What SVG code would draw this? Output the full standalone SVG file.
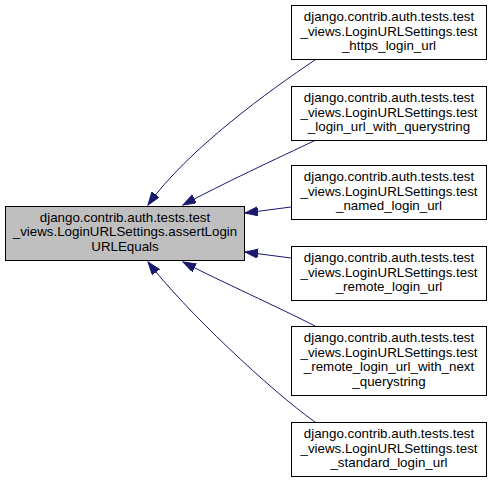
<svg xmlns="http://www.w3.org/2000/svg" width="492" height="483" viewBox="0 0 492 483">
<style>
.bg{fill:#ffffff}
.node rect{fill:#ffffff;stroke:#000000;stroke-width:1}
#main rect{fill:#bfbfbf}
.node text{font-family:"Liberation Sans",Arial,sans-serif;font-size:13.33px;fill:#000000;text-anchor:middle}
.edge{fill:none;stroke:#191970;stroke-width:1;marker-end:url(#arr)}
</style>
<defs>
<marker id="arr" markerUnits="userSpaceOnUse" markerWidth="14" markerHeight="10" refX="13" refY="4.5" orient="auto">
<path d="M0,0 L13,4.5 L0,9 z" fill="#191970" stroke="#191970" stroke-width="1"/>
</marker>
</defs>
<rect class="bg" x="0" y="0" width="492" height="483"/>
<g id="connectors">
<path class="edge" d="M315,60 C270,90 187,150 148,205"/>
<path class="edge" d="M316,140 C280,157 220,185 183,205"/>
<path class="edge" d="M291,207 L245,213"/>
<path class="edge" d="M291,258 L245,252"/>
<path class="edge" d="M315,326 C280,308 220,281 183,262"/>
<path class="edge" d="M315,422 C270,390 185,310 148,262"/>
</g>
<g id="main" class="node">
<rect x="5.5" y="206.5" width="239" height="54"/>
<text x="125" y="221.5">django.contrib.auth.tests.test</text>
<text x="125" y="236">_views.LoginURLSettings.assertLogin</text>
<text x="125" y="250.5">URLEquals</text>
</g>
<g id="n1" class="node">
<rect x="291.5" y="5.5" width="195" height="54"/>
<text x="389" y="21">django.contrib.auth.tests.test</text>
<text x="389" y="35.5">_views.LoginURLSettings.test</text>
<text x="389" y="50">_https_login_url</text>
</g>
<g id="n2" class="node">
<rect x="291.5" y="86.5" width="195" height="54"/>
<text x="389" y="102">django.contrib.auth.tests.test</text>
<text x="389" y="116.5">_views.LoginURLSettings.test</text>
<text x="389" y="131">_login_url_with_querystring</text>
</g>
<g id="n3" class="node">
<rect x="291.5" y="165.5" width="195" height="54"/>
<text x="389" y="181">django.contrib.auth.tests.test</text>
<text x="389" y="195.5">_views.LoginURLSettings.test</text>
<text x="389" y="210">_named_login_url</text>
</g>
<g id="n4" class="node">
<rect x="291.5" y="246.5" width="195" height="54"/>
<text x="389" y="262">django.contrib.auth.tests.test</text>
<text x="389" y="276.5">_views.LoginURLSettings.test</text>
<text x="389" y="291">_remote_login_url</text>
</g>
<g id="n5" class="node">
<rect x="291.5" y="326.5" width="195" height="69"/>
<text x="389" y="342">django.contrib.auth.tests.test</text>
<text x="389" y="356.5">_views.LoginURLSettings.test</text>
<text x="389" y="371">_remote_login_url_with_next</text>
<text x="389" y="385.5">_querystring</text>
</g>
<g id="n6" class="node">
<rect x="291.5" y="422.5" width="195" height="54"/>
<text x="389" y="438">django.contrib.auth.tests.test</text>
<text x="389" y="452.5">_views.LoginURLSettings.test</text>
<text x="389" y="467">_standard_login_url</text>
</g>
</svg>
